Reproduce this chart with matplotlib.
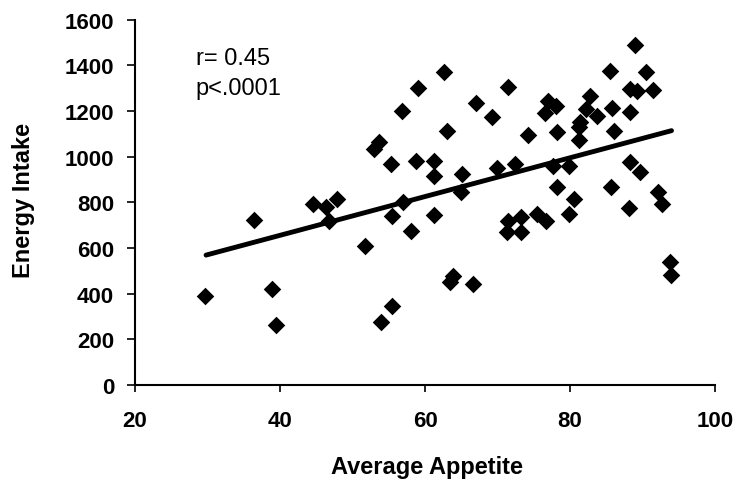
import matplotlib
matplotlib.use("Agg")
import matplotlib.pyplot as plt

plt.rcParams['font.family'] = ['Liberation Sans', 'DejaVu Sans']

# Scatter data (appetite score, energy intake)
appetite = [29.7, 36.4, 38.9, 39.5, 44.5, 46.4, 47.8, 46.8, 51.7, 53.9,
            55.5, 58.0, 57.0, 61.2, 65.0, 55.5, 63.8, 63.4, 66.6, 71.5,
            71.3, 73.3, 73.3, 75.4, 76.7, 78.2, 80.5, 79.8, 85.7, 88.2,
            92.2, 92.7, 93.8, 93.9, 89.0, 85.5, 90.5, 88.3, 89.2, 91.4,
            62.6, 59.0, 56.8, 71.4, 67.1, 69.2, 63.1, 77.0, 78.1, 76.5,
            74.2, 78.2, 82.8, 82.2, 83.7, 81.4, 81.2, 81.3, 85.8, 88.3,
            86.1, 53.7, 52.9, 55.3, 58.8, 61.2, 61.3, 65.1, 69.9, 72.4,
            77.7, 79.9, 88.3, 89.7]
energy = [391, 724, 420, 263, 793, 778, 815, 720, 610, 278,
          739, 676, 800, 746, 844, 347, 476, 450, 441, 720,
          669, 735, 669, 749, 720, 866, 815, 749, 866, 774,
          847, 793, 537, 482, 1489, 1377, 1372, 1297, 1289, 1293,
          1370, 1301, 1201, 1304, 1234, 1173, 1114, 1245, 1223, 1191,
          1095, 1110, 1265, 1209, 1180, 1151, 1129, 1073, 1213, 1197,
          1114, 1063, 1034, 968, 982, 982, 914, 924, 950, 968,
          961, 961, 975, 932]

# Regression line end points as drawn in the reference
fit_x = [29.8, 94.0]
fit_y = [569, 1114]

x_ticks = [20, 40, 60, 80, 100]
y_ticks = [0, 200, 400, 600, 800, 1000, 1200, 1400, 1600]

fig = plt.figure(figsize=(7.35, 4.89), dpi=100)
ax = fig.add_axes([0.1837, 0.2106, 0.7891, 0.7471])

ax.scatter(appetite, energy, marker='D', s=80, color='black', linewidths=0, zorder=3)
ax.plot(fit_x, fit_y, color='black', lw=3.5, solid_capstyle='round', zorder=4)

ax.set_xlim(20, 100)
ax.set_ylim(0, 1600)
ax.set_xticks(x_ticks)
ax.set_yticks(y_ticks)

for side in ['top', 'right']:
    ax.spines[side].set_visible(False)
for side in ['left', 'bottom']:
    ax.spines[side].set_linewidth(1.5)
    ax.spines[side].set_color('black')

ax.tick_params(axis='x', direction='out', length=5, width=1.2, pad=13)
ax.tick_params(axis='y', direction='out', length=6, width=1.2, pad=9)
for lab in ax.get_xticklabels() + ax.get_yticklabels():
    lab.set_fontsize(16)
    lab.set_fontweight('bold')

ax.set_xlabel('Average Appetite', fontsize=17, fontweight='bold')
ax.set_ylabel('Energy Intake', fontsize=17, fontweight='bold')
ax.xaxis.label.set_va('center')
ax.yaxis.label.set_va('center')
ax.xaxis.set_label_coords(0.504, -0.222)
ax.yaxis.set_label_coords(-0.193, 0.509)

ax.text(28.4, 1433, 'r= 0.45', fontsize=17, va='center', ha='left')
ax.text(28.4, 1301, 'p<.0001', fontsize=17, va='center', ha='left')

fig.savefig('out.png', dpi=100)
